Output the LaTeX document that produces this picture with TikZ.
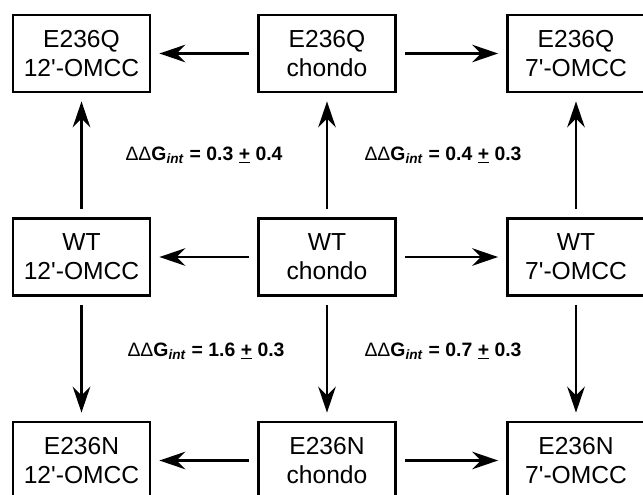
\documentclass[tikz,border=0pt]{standalone}
\usepackage{fontspec}
\setmainfont{Liberation Sans}
\usetikzlibrary{arrows.meta}

\tikzset{
  statebox/.style={draw, line width=2pt, minimum width=3.425cm, minimum height=1.925cm,
    align=center, inner sep=0pt, font=\fontsize{17.5}{20.6}\selectfont},
  flow/.style={-{Stealth[length=6.5mm,width=4.4mm,inset=2.2mm]}, line width=2.1pt,
    shorten >=2mm, shorten <=2mm},
  ddg/.style={font=\fontsize{13.8}{15}\selectfont\bfseries}
}
\newcommand{\ddG}[2]{{\mdseries ΔΔ}G\textsubscript{\textit{int}} = #1 \underline{+} #2}
\newcommand{\pr}{\textquotesingle}

\begin{document}
\begin{tikzpicture}[x=0.025cm, y=-0.025cm]
    \clip (0,0) rectangle (643,494);

    % E236Q row
    \node[statebox] (Q12) at (81.5,53.5) {E236Q\\12\pr-OMCC};
    \node[statebox] (Qchondo) at (327,53.5) {E236Q\\chondo};
    \node[statebox] (Q7) at (576,53.5) {E236Q\\7\pr-OMCC};

    % WT row
    \node[statebox] (WT12) at (81.5,257) {WT\\12\pr-OMCC};
    \node[statebox] (WTchondo) at (327,257) {WT\\chondo};
    \node[statebox] (WT7) at (576,257) {WT\\7\pr-OMCC};

    % E236N row
    \node[statebox] (N12) at (81.5,460.5) {E236N\\12\pr-OMCC};
    \node[statebox] (Nchondo) at (327,460.5) {E236N\\chondo};
    \node[statebox] (N7) at (576,460.5) {E236N\\7\pr-OMCC};

    % horizontal arrows
    \draw[flow] (Qchondo) -- (Q12);
    \draw[flow] (Qchondo) -- (Q7);
    \draw[flow] (WTchondo) -- (WT12);
    \draw[flow] (WTchondo) -- (WT7);
    \draw[flow] (Nchondo) -- (N12);
    \draw[flow] (Nchondo) -- (N7);

    % vertical arrows
    \draw[flow] (WT12) -- (Q12);
    \draw[flow] (WTchondo) -- (Qchondo);
    \draw[flow] (WT7) -- (Q7);
    \draw[flow] (WT12) -- (N12);
    \draw[flow] (WTchondo) -- (Nchondo);
    \draw[flow] (WT7) -- (N7);

    % interaction energies
    \node[ddg] (ddgQ12) at (204,155) {\ddG{0.3}{0.4}};
    \node[ddg] (ddgQ7) at (443,155) {\ddG{0.4}{0.3}};
    \node[ddg] (ddgN12) at (206,351) {\ddG{1.6}{0.3}};
    \node[ddg] (ddgN7) at (443,351) {\ddG{0.7}{0.3}};
\end{tikzpicture}
\end{document}
